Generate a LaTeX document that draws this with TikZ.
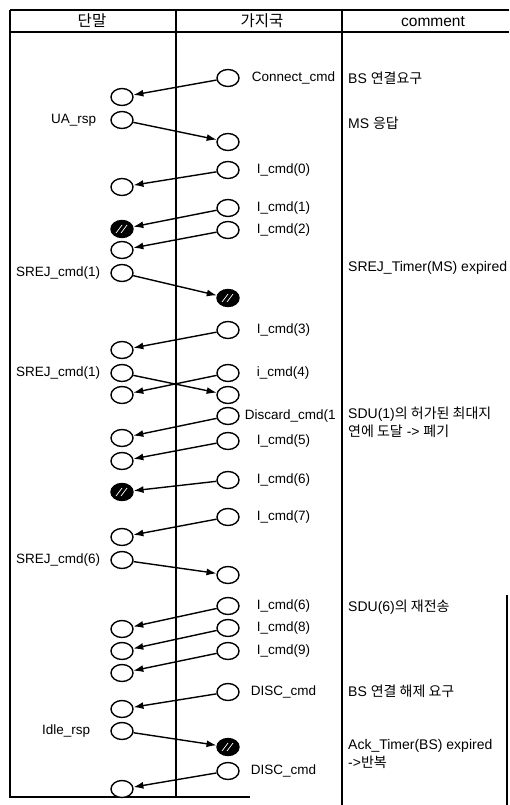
\documentclass[tikz,border=0pt]{standalone}
\usepackage{fontspec}
\setmainfont{Liberation Sans}
\newfontfamily\kr{Noto Sans CJK KR}
\usetikzlibrary{arrows.meta,shapes.geometric}
\begin{document}
\begin{tikzpicture}[x=1pt,y=-1pt,
  st/.style={ellipse,draw,line width=1.4pt,minimum width=22pt,minimum height=17pt,inner sep=0pt,fill=white},
  hat/.style={st,fill=black,path picture={
    \foreach \d in {-3,2}{\draw[white,line width=.7pt] ([shift={(\d-3,4)}]path picture bounding box.center) -- ([shift={(\d+3,-4)}]path picture bounding box.center);}}},
  msg/.style={line width=1.4pt,-{Latex[length=10pt,width=7pt]}},
  lbl/.style={font=\fontsize{13.5}{15}\selectfont,inner sep=0pt},
  cmt/.style={font=\fontsize{14}{18}\selectfont,inner sep=0pt,anchor=west,align=left},
  hdr/.style={font=\fontsize{15.5}{17}\selectfont,inner sep=0pt},
  frame/.style={line width=1.5pt}]
\useasboundingbox (0,0) rectangle (509,805);
% table
\draw[frame] (10,10) -- (509,10);
\draw[frame] (10,32) -- (509,32);
\draw[frame] (10,10) -- (10,797) -- (250,797);
\draw[frame] (176,10) -- (176,797);
\draw[frame] (342,10) -- (342,805);
\draw[frame] (507,595) -- (507,805);
% headers
\node[hdr] (h1) at (92,21) {\kr 단말};
\node[hdr] (h2) at (262,21) {\kr 가지국};
\node[hdr] (h3) at (433,22) {comment};
% states
\node[st] (R1) at (228,78) {};
\node[st] (L1) at (122,97) {};
\node[st] (L2) at (122,120) {};
\node[st] (R2) at (228,142) {};
\node[st] (R3) at (228,170) {};
\node[st] (L3) at (122,187) {};
\node[st] (R4) at (228,208) {};
\node[hat] (L4) at (122,229) {};
\node[st] (R5) at (228,230) {};
\node[st] (L5) at (122,250) {};
\node[st] (L6) at (122,273) {};
\node[hat] (R6) at (228,298) {};
\node[st] (R7) at (228,330) {};
\node[st] (L7) at (122,350) {};
\node[st] (L8) at (122,373) {};
\node[st] (R8) at (228,373) {};
\node[st] (L9) at (122,395) {};
\node[st] (R9) at (228,395) {};
\node[st] (R10) at (228,416) {};
\node[st] (L10) at (122,438) {};
\node[st] (R11) at (228,441) {};
\node[st] (L11) at (122,461) {};
\node[st] (R12) at (228,480) {};
\node[hat] (L12) at (122,492) {};
\node[st] (R13) at (228,517) {};
\node[st] (L13) at (122,537) {};
\node[st] (L14) at (122,560) {};
\node[st] (R14) at (228,575) {};
\node[st] (R15) at (228,606) {};
\node[st] (L15) at (122,629) {};
\node[st] (R16) at (228,628) {};
\node[st] (L16) at (122,651) {};
\node[st] (R17) at (228,651) {};
\node[st] (L17) at (122,673) {};
\node[st] (R18) at (228,692) {};
\node[st] (L18) at (122,709) {};
\node[st] (L19) at (122,731) {};
\node[hat] (R19) at (228,747) {};
\node[st] (R20) at (228,771) {};
\node[st] (L20) at (122,789) {};
% labels
\node[lbl,anchor=west] (tR1) at ([xshift=12pt]R1.east) {Connect\_cmd};
\node[lbl,anchor=east] (tL2) at ([xshift=-14pt]L2.west) {UA\_rsp};
\node[lbl,anchor=west] (tR3) at ([xshift=17pt]R3.east) {I\_cmd(0)};
\node[lbl,anchor=west] (tR4) at ([xshift=17pt]R4.east) {I\_cmd(1)};
\node[lbl,anchor=west] (tR5) at ([xshift=17pt]R5.east) {I\_cmd(2)};
\node[lbl,anchor=east] (tL6) at ([xshift=-10pt]L6.west) {SREJ\_cmd(1)};
\node[lbl,anchor=west] (tR7) at ([xshift=17pt]R7.east) {I\_cmd(3)};
\node[lbl,anchor=east] (tL8) at ([xshift=-10pt]L8.west) {SREJ\_cmd(1)};
\node[lbl,anchor=west] (tR8) at ([xshift=17pt]R8.east) {i\_cmd(4)};
\node[lbl,anchor=west] (tR10) at ([xshift=5pt]R10.east) {Discard\_cmd(1};
\node[lbl,anchor=west] (tR11) at ([xshift=17pt]R11.east) {I\_cmd(5)};
\node[lbl,anchor=west] (tR12) at ([xshift=17pt]R12.east) {I\_cmd(6)};
\node[lbl,anchor=west] (tR13) at ([xshift=17pt]R13.east) {I\_cmd(7)};
\node[lbl,anchor=east] (tL14) at ([xshift=-10pt]L14.west) {SREJ\_cmd(6)};
\node[lbl,anchor=west] (tR15) at ([xshift=17pt]R15.east) {I\_cmd(6)};
\node[lbl,anchor=west] (tR16) at ([xshift=17pt]R16.east) {I\_cmd(8)};
\node[lbl,anchor=west] (tR17) at ([xshift=17pt]R17.east) {I\_cmd(9)};
\node[lbl,anchor=west] (tR18) at ([xshift=11pt]R18.east) {DISC\_cmd};
\node[lbl,anchor=east] (tL19) at ([xshift=-20pt]L19.west) {Idle\_rsp};
\node[lbl,anchor=west] (tR20) at ([xshift=11pt]R20.east) {DISC\_cmd};
% messages
\draw[msg] (R1) -- (L1);
\draw[msg] (L2) -- (R2);
\draw[msg] (R3) -- (L3);
\draw[msg] (R4) -- (L4);
\draw[msg] (R5) -- (L5);
\draw[msg] (L6) -- (R6);
\draw[msg] (R7) -- (L7);
\draw[msg] (L8) -- (R9);
\draw[msg] (R8) -- (L9);
\draw[msg] (R10) -- (L10);
\draw[msg] (R11) -- (L11);
\draw[msg] (R12) -- (L12);
\draw[msg] (R13) -- (L13);
\draw[msg] (L14) -- (R14);
\draw[msg] (R15) -- (L15);
\draw[msg] (R16) -- (L16);
\draw[msg] (R17) -- (L17);
\draw[msg] (R18) -- (L18);
\draw[msg] (L19) -- (R19);
\draw[msg] (R20) -- (L20);
% comments
\node[cmt] (c1) at (348,78) {BS {\kr 연결요구}};
\node[cmt] (c2) at (348,123) {MS {\kr 응답}};
\node[cmt] (c3) at (348,268) {SREJ\_Timer(MS) expired};
\node[cmt] (c4) at (348,422) {SDU(1){\kr 의 허가된 최대지}\\{\kr 연에 도달} -> {\kr 폐기}};
\node[cmt] (c5) at (348,607) {SDU(6){\kr 의 재전송}};
\node[cmt] (c6) at (348,691) {BS {\kr 연결 해제 요구}};
\node[cmt] (c7) at (348,754) {Ack\_Timer(BS) expired\\->{\kr 반복}};
\end{tikzpicture}
\end{document}
